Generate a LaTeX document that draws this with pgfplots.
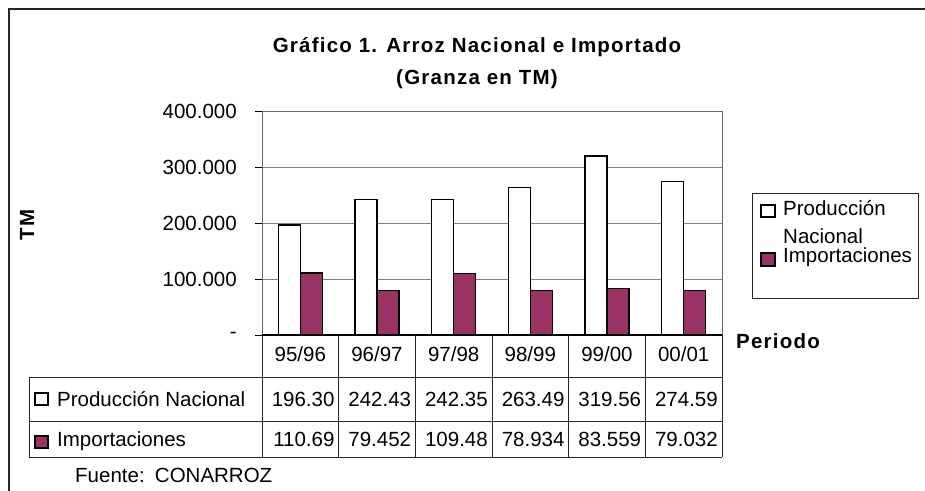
\documentclass[border=0pt]{standalone}
\usepackage{fontspec}
\setmainfont{Liberation Sans}
\newfontfamily\boldsp{Liberation Sans}[LetterSpace=6]
\usepackage{pgfplots}
\pgfplotsset{compat=1.18}
\definecolor{plum}{HTML}{993366}
\newcommand{\fs}{\fontsize{20.5bp}{24bp}\selectfont}
\newcommand{\fb}{\boldsp\bfseries\fontsize{20.5bp}{24bp}\selectfont}
\begin{document}
\begin{tikzpicture}
\path[use as bounding box] (0,0) rectangle (925bp,-491bp);
\clip (0,0) rectangle (925bp,-491bp);
\begin{axis}[
  at={(262bp,-335bp)}, anchor=south west,
  scale only axis, width=460bp, height=224bp,
  xmin=-0.5, xmax=5.5, ymin=0, ymax=400000,
  ybar=0pt, bar width=22bp,
  xtick=\empty,
  ytick={0,100000,200000,300000,400000},
  yticklabels={-,100.000,200.000,300.000,400.000},
  scaled y ticks=false,
  ytick pos=left,
  tick align=outside, major tick length=7bp,
  tick style={black, line width=1bp},
  yticklabel style={font=\fs, anchor=east, inner sep=0pt, xshift=-18bp},
  ymajorgrids, grid style={gray, line width=1bp},
  axis line style={gray!80!black, line width=1bp},
  clip=false,
]
\addplot[fill=white, draw=black, line width=1.2bp] coordinates {(0,196300) (1,242430) (2,242350) (3,263490) (4,319560) (5,274590)};
\addplot[fill=plum, draw=black, line width=1.2bp] coordinates {(0,110690) (1,79452) (2,109480) (3,78934) (4,83559) (5,79032)};
\draw[black, line width=1.2bp] (axis cs:-0.5,0) -- (axis cs:5.5,0);
\end{axis}
\begin{scope}[x=1bp, y=-1bp, every node/.append style={inner sep=0pt, font=\fs}]
\draw[black!85, line width=2bp] (9,500) -- (9,9) -- (935,9);
\node[font=\fb, anchor=base] at (477,52) {Gráfico 1. Arroz Nacional e Importado};
\node[font=\fb, anchor=base] at (477,84) {(Granza en TM)};
\node[font=\fb, rotate=90] at (27,225) {TM};
\node[font=\fb, anchor=base west] at (736,348) {Periodo};
\foreach \i in {0,...,6} {\draw[black!85, line width=1bp] ({262+76.667*\i},335) -- ({262+76.667*\i},457);}
\draw[black!85, line width=1bp] (29,377) -- (722,377) (29,421) -- (722,421) (29,457) -- (722,457) (29,377) -- (29,457);
\node[anchor=base] at (300.3,361) {95/96};
\node[anchor=base] at (377.0,361) {96/97};
\node[anchor=base] at (453.7,361) {97/98};
\node[anchor=base] at (530.3,361) {98/99};
\node[anchor=base] at (607.0,361) {99/00};
\node[anchor=base] at (683.7,361) {00/01};
\draw[black, line width=1.2bp, fill=white] (35,393) rectangle (48,405);
\node[anchor=base west] at (57,406) {Producción Nacional};
\draw[black, line width=1.2bp, fill=plum] (35,436) rectangle (48,448);
\node[anchor=base west] at (57,446) {Importaciones};
\node[anchor=base east] at (334.7,406) {196.30};
\node[anchor=base east] at (411.3,406) {242.43};
\node[anchor=base east] at (488.0,406) {242.35};
\node[anchor=base east] at (564.7,406) {263.49};
\node[anchor=base east] at (641.3,406) {319.56};
\node[anchor=base east] at (718.0,406) {274.59};
\node[anchor=base east] at (334.7,446) {110.69};
\node[anchor=base east] at (411.3,446) {79.452};
\node[anchor=base east] at (488.0,446) {109.48};
\node[anchor=base east] at (564.7,446) {78.934};
\node[anchor=base east] at (641.3,446) {83.559};
\node[anchor=base east] at (718.0,446) {79.032};
\node[anchor=base west] at (75,482) {Fuente:\hspace{0.5em}CONARROZ};
\draw[black!85, line width=1bp] (752,193) rectangle (918,298);
\draw[black, line width=1.2bp, fill=white] (761,205) rectangle (775,217);
\draw[black, line width=1.2bp, fill=plum] (761,253) rectangle (775,266);
\node[anchor=base west] at (783,215) {Producción};
\node[anchor=base west] at (783,243) {Nacional};
\node[anchor=base west] at (783,262) {Importaciones};
\end{scope}
\end{tikzpicture}
\end{document}
